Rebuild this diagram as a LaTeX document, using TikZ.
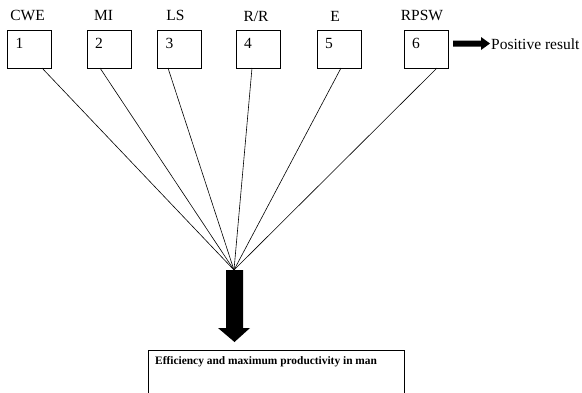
\documentclass[tikz,border=0pt]{standalone}
\usepackage{fontspec}
\setmainfont{Liberation Serif}
\usetikzlibrary{calc}
\begin{document}
\begin{tikzpicture}[x=1pt,y=-1pt,
  fbox/.style={draw,line width=0.8pt,minimum width=44pt,minimum height=38pt,inner sep=0pt},
  lbl/.style={font=\fontsize{15.5}{17}\selectfont,inner sep=0pt},
  num/.style={font=\fontsize{15.5}{17}\selectfont,inner sep=0pt},
  conn/.style={line width=0.6pt}]
\useasboundingbox (0,0) rectangle (582,392);
% boxes
\node[fbox] (b1) at (29.5,49) {};
\node[fbox] (b2) at (109,49) {};
\node[fbox] (b3) at (179.5,49) {};
\node[fbox] (b4) at (258,49) {};
\node[fbox] (b5) at (339,49) {};
\node[fbox] (b6) at (426,49) {};
% labels
\node[lbl] (l1) at (27.5,15) {CWE};
\node[lbl] (l2) at (103.5,15) {MI};
\node[lbl] (l3) at (175.5,15) {LS};
\node[lbl] (l4) at (256,16) {R/R};
\node[lbl] (l5) at (335,16) {E};
\node[lbl] (l6) at (422,15) {RPSW};
% numbers
\foreach \i/\n in {1/1,2/2,3/3,4/4,5/5,6/6}{
  \node[num] (n\i) at ($(b\i.north west)+(12.5,14)$) {\n};
}
% convergence point
\coordinate (c) at (234,270);
\coordinate (s1) at (42,68);
\coordinate (s2) at (100,68);
\coordinate (s3) at (168,68);
\coordinate (s4) at (252,68);
\coordinate (s5) at (341,68);
\coordinate (s6) at (437,68);
\foreach \i in {1,...,6}{ \draw[conn] (s\i) -- (c); }
% big arrow
\fill (226,270) -- (243,270) -- (243,328) -- (250,328) -- (234.5,342) -- (218,328) -- (226,328) -- cycle;
% bottom box
\node[draw,line width=0.8pt,minimum width=256pt,minimum height=60pt,anchor=north west,inner sep=0pt] (eff) at (148,350) {};
\node[font=\fontsize{11.4}{13}\selectfont\bfseries,anchor=west,inner sep=0pt] (efft) at (155,362) {Efficiency and maximum productivity in man};
% positive result arrow
\node[lbl,anchor=west] (pos) at (491,44) {Positive result};
\fill (453,40.5) -- (481,40.5) -- (481,37) -- (490,43.5) -- (481,50) -- (481,46.5) -- (453,46.5) -- cycle;
\end{tikzpicture}
\end{document}
